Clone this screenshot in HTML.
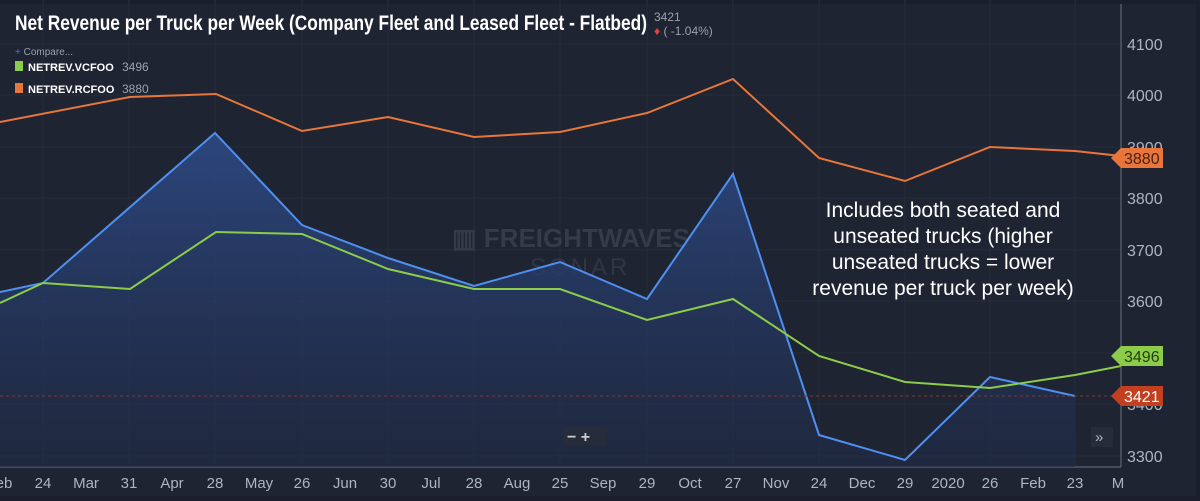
<!DOCTYPE html>
<html><head><meta charset="utf-8"><style>
body{margin:0;background:#171c26;}
svg{display:block;font-family:"Liberation Sans",sans-serif;}
</style></head><body>
<svg width="1200" height="501" viewBox="0 0 1200 501">
<defs><linearGradient id="g" x1="0" y1="0" x2="0" y2="1"><stop offset="0" stop-color="#2d4a86" stop-opacity="0.9"/><stop offset="1" stop-color="#1f2a45" stop-opacity="0.6"/></linearGradient></defs>
<rect x="0" y="0" width="1200" height="501" fill="#1a1f2b"/>
<rect x="0" y="4" width="1196" height="492" fill="#1e2432"/>
<g stroke="#252c3a" stroke-width="1">
<line x1="43" y1="0" x2="43" y2="467"/><line x1="129" y1="0" x2="129" y2="467"/><line x1="215" y1="0" x2="215" y2="467"/><line x1="302" y1="0" x2="302" y2="467"/><line x1="388" y1="0" x2="388" y2="467"/><line x1="474" y1="0" x2="474" y2="467"/><line x1="560" y1="0" x2="560" y2="467"/><line x1="647" y1="0" x2="647" y2="467"/><line x1="733" y1="0" x2="733" y2="467"/><line x1="819" y1="0" x2="819" y2="467"/><line x1="905" y1="0" x2="905" y2="467"/><line x1="990" y1="0" x2="990" y2="467"/><line x1="1075" y1="0" x2="1075" y2="467"/>
<line x1="0" y1="44" x2="1121" y2="44"/><line x1="0" y1="95" x2="1121" y2="95"/><line x1="0" y1="147" x2="1121" y2="147"/><line x1="0" y1="198" x2="1121" y2="198"/><line x1="0" y1="250" x2="1121" y2="250"/><line x1="0" y1="301" x2="1121" y2="301"/><line x1="0" y1="353" x2="1121" y2="353"/><line x1="0" y1="404" x2="1121" y2="404"/><line x1="0" y1="456" x2="1121" y2="456"/>
</g>
<line x1="1121" y1="4" x2="1121" y2="467" stroke="#6b7284"/>
<line x1="0" y1="467" x2="1121" y2="467" stroke="#6b7284"/>
<text x="452" y="247" font-size="26" font-weight="bold" fill="#343b4a">▥ FREIGHTWAVES</text>
<text x="530" y="275" font-size="24" fill="#2f3645" letter-spacing="3">SONAR</text>
<path d="M0,292 L43,283 L215,133 L302,225 L388,258 L474,286 L560,262 L647,299 L733,174 L819,435 L905,460 L990,377 L1075,396 L1075,467 L0,467Z" fill="url(#g)"/>
<polyline points="0,292 43,283 215,133 302,225 388,258 474,286 560,262 647,299 733,174 819,435 905,460 990,377 1075,396" fill="none" stroke="#4f8ff0" stroke-width="2"/>
<polyline points="0,122 130,97 216,94 302,131 388,117 474,137 560,132 647,113 733,79 819,158 905,181 990,147 1075,151 1121,156" fill="none" stroke="#e8763a" stroke-width="2"/>
<polyline points="0,303 43,283 130,289 216,232 302,234 388,269 474,289 560,289 647,320 733,299 819,356 905,382 990,388 1075,375 1121,366" fill="none" stroke="#8ccc4a" stroke-width="2"/>
<line x1="0" y1="396" x2="1121" y2="396" stroke="#7a3a30" stroke-dasharray="3,3"/>
<g font-size="16" fill="#aeb4c0">
<text x="1127" y="50">4100</text><text x="1127" y="101">4000</text><text x="1127" y="153">3900</text><text x="1127" y="204">3800</text><text x="1127" y="256">3700</text><text x="1127" y="307">3600</text><text x="1127" y="410">3400</text><text x="1127" y="462">3300</text>
</g>
<path d="M1111,158 L1121,148 L1163,148 L1163,168 L1121,168Z" fill="#e8763a"/><text x="1124" y="164" font-size="16" fill="#4a2010">3880</text>
<path d="M1111,356 L1121,346 L1163,346 L1163,366 L1121,366Z" fill="#8ccc4a"/><text x="1124" y="362" font-size="16" fill="#234010">3496</text>
<path d="M1111,396 L1121,386 L1163,386 L1163,406 L1121,406Z" fill="#c2401f"/><text x="1124" y="402" font-size="16" fill="#fff">3421</text>
<g font-size="15" fill="#aeb4c0" text-anchor="middle">
<text x="4" y="488">eb</text><text x="43" y="488">24</text><text x="86" y="488">Mar</text><text x="129" y="488">31</text><text x="172" y="488">Apr</text><text x="215" y="488">28</text><text x="259" y="488">May</text><text x="302" y="488">26</text><text x="345" y="488">Jun</text><text x="388" y="488">30</text><text x="431" y="488">Jul</text><text x="474" y="488">28</text><text x="517" y="488">Aug</text><text x="560" y="488">25</text><text x="603" y="488">Sep</text><text x="647" y="488">29</text><text x="690" y="488">Oct</text><text x="733" y="488">27</text><text x="776" y="488">Nov</text><text x="819" y="488">24</text><text x="862" y="488">Dec</text><text x="905" y="488">29</text><text x="948" y="488">2020</text><text x="990" y="488">26</text><text x="1033" y="488">Feb</text><text x="1075" y="488">23</text><text x="1118" y="488">M</text>
</g>
<rect x="563" y="427" width="44" height="18" fill="#262c3a"/>
<text x="567" y="442" font-size="16" fill="#c8ccd4" font-weight="bold">− +</text>
<rect x="1091" y="427" width="22" height="20" fill="#262c3a"/><text x="1095" y="442" font-size="15" fill="#aeb4c0">»</text>
<text x="15" y="30" font-size="21" font-weight="bold" fill="#fff" textLength="632" lengthAdjust="spacingAndGlyphs">Net Revenue per Truck per Week (Company Fleet and Leased Fleet - Flatbed)</text>
<text x="654" y="21" font-size="12" fill="#9aa0ac">3421</text>
<text x="654" y="35" font-size="12" fill="#9aa0ac"><tspan fill="#e04040">♦</tspan> ( -1.04%)</text>
<text x="15" y="55" font-size="10" fill="#9aa0ac"><tspan fill="#4f6ff0">+</tspan> Compare...</text>
<rect x="15" y="61" width="8" height="10" fill="#8ccc4a"/><text x="28" y="71" font-size="11" font-weight="bold" fill="#fff">NETREV.VCFOO</text><text x="122" y="71" font-size="12" fill="#9aa0ac">3496</text>
<rect x="15" y="83" width="8" height="10" fill="#e8763a"/><text x="28" y="93" font-size="11" font-weight="bold" fill="#fff">NETREV.RCFOO</text><text x="122" y="93" font-size="12" fill="#9aa0ac">3880</text>
<g font-size="21" fill="#fff" text-anchor="middle">
<text x="943" y="217">Includes both seated and</text>
<text x="943" y="243">unseated trucks (higher</text>
<text x="943" y="269">unseated trucks = lower</text>
<text x="943" y="295">revenue per truck per week)</text>
</g>
</svg>
</body></html>
